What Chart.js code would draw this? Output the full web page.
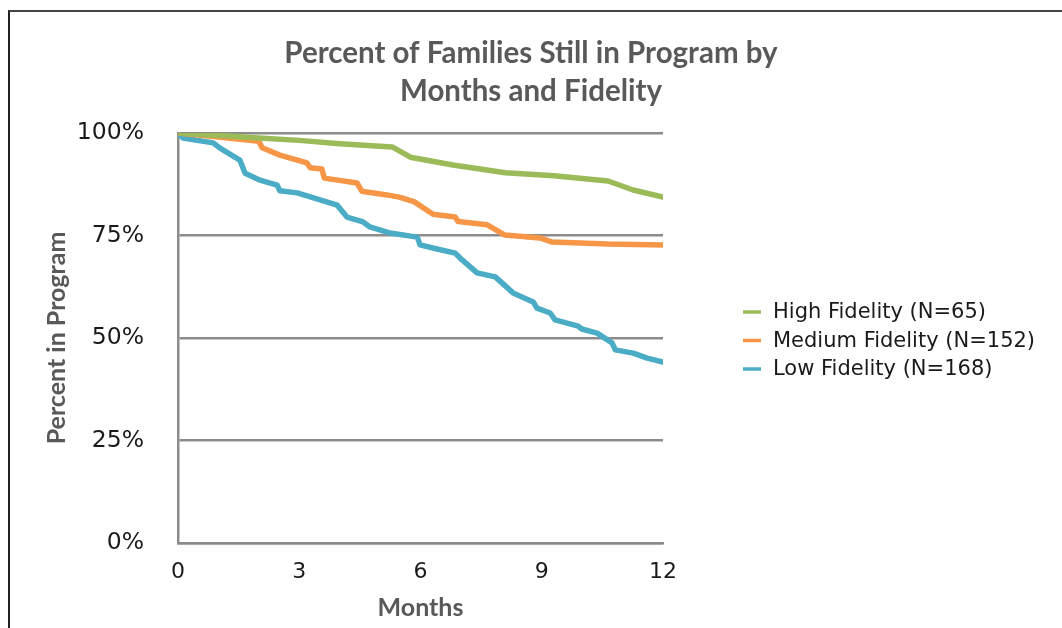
<!DOCTYPE html>
<html>
<head>
<meta charset="utf-8">
<script src="https://cdn.jsdelivr.net/npm/chart.js@4.4.1/dist/chart.umd.min.js"></script>
<style>
  html, body { margin: 0; padding: 0; background: #ffffff; }
  #wrap { position: relative; width: 1062px; height: 628px; overflow: hidden; }
  #frame { position: absolute; left: 8px; top: 10px; width: 1100px; height: 700px; border-left: 2px solid #222; border-top: 2px solid #444; box-sizing: border-box; pointer-events: none; }
  canvas { position: absolute; left: 0; top: 0; }
</style>
</head>
<body>
<div id="wrap">
  <canvas id="c" width="1062" height="628"></canvas>
  <div id="frame"></div>
</div>
<script>
// ---- Data ----
const seriesLabels = ['High Fidelity (N=65)', 'Medium Fidelity (N=152)', 'Low Fidelity (N=168)'];
const seriesColors = ['#9BBB59', '#F79646', '#4BACC6'];

const highMonths = [0, 1, 2, 3, 4, 5.3, 5.75, 6.8, 8.1, 9.3, 10.64, 11.26, 12];
const highPct    = [100, 99.4, 98.8, 98.2, 97.4, 96.6, 94.1, 92.2, 90.3, 89.6, 88.3, 86.1, 84.4];

const medMonths = [0, 1, 2.0, 2.08, 2.52, 3.19, 3.27, 3.56, 3.62, 4.43, 4.55, 5.17, 5.5, 5.85, 6.31, 6.86, 6.93, 7.65, 8.09, 8.96, 9.26, 10.62, 12];
const medPct    = [100, 99.0, 98.0, 96.4, 94.6, 92.7, 91.5, 91.2, 89.0, 87.8, 85.8, 84.9, 84.3, 83.2, 80.2, 79.5, 78.4, 77.6, 75.1, 74.4, 73.4, 72.9, 72.7];

const lowMonths = [0, 0.12, 0.87, 1.04, 1.53, 1.66, 2.03, 2.45, 2.52, 2.95, 3.94, 4.18, 4.58, 4.75, 5.25, 5.92, 5.99, 6.41, 6.86, 6.98, 7.4, 7.85, 8.29, 8.79, 8.88, 9.21, 9.33, 9.9, 9.99, 10.37, 10.74, 10.82, 11.26, 11.61, 12];
const lowPct    = [100, 98.8, 97.6, 96.3, 93.4, 90.2, 88.5, 87.3, 85.9, 85.4, 82.4, 79.5, 78.3, 77.1, 75.6, 74.6, 72.7, 71.7, 70.7, 69.5, 65.9, 64.9, 61.0, 58.8, 57.3, 56.1, 54.4, 52.9, 52.2, 51.2, 48.8, 47.1, 46.3, 45.1, 44.1];

const xTicks = [0, 3, 6, 9, 12];
const yTicks = [0, 25, 50, 75, 100];

const titleLines = ['Percent of Families Still in Program by', 'Months and Fidelity'];
const xTitle = 'Months';
const yTitle = 'Percent in Program';

// ---- Build ----
function pts(xs, ys) { return xs.map((x, i) => ({ x: x, y: ys[i] })); }
const allSeries = [pts(highMonths, highPct), pts(medMonths, medPct), pts(lowMonths, lowPct)];

const labelFont = "'DejaVu Sans', 'Liberation Sans', sans-serif";
const boldFont = "Lato, 'Liberation Sans', sans-serif";

// Legend as a layout box on the right of the plot area (title stays full width)
const sideLegend = {
  id: 'sideLegend',
  beforeInit(chart) {
    const box = {
      position: 'right', weight: 100, fullSize: false,
      options: { stackWeight: 1 },
      left: 0, top: 0, right: 0, bottom: 0, width: 0, height: 0,
      isHorizontal() { return false; },
      getPadding() { return { top: 0, left: 0, right: 0, bottom: 0 }; },
      update(maxWidth, maxHeight) { this.width = 399; this.height = maxHeight; },
      draw() {
        const ctx = chart.ctx;
        const x0 = this.left + 80;
        const yc = 340.5;
        const gap = 28.5;
        ctx.save();
        chart.data.datasets.forEach((ds, i) => {
          const y = yc + (i - 1) * gap;
          ctx.strokeStyle = ds.borderColor;
          ctx.lineWidth = 3.5;
          ctx.beginPath();
          ctx.moveTo(x0, y);
          ctx.lineTo(x0 + 18, y);
          ctx.stroke();
          ctx.fillStyle = '#1a1a1a';
          ctx.font = '21px ' + labelFont;
          ctx.textBaseline = 'middle';
          ctx.textAlign = 'left';
          ctx.fillText(ds.label, x0 + 30, y + 1);
        });
        ctx.restore();
      }
    };
    Chart.layouts.addBox(chart, box);
  }
};

new Chart(document.getElementById('c'), {
  type: 'line',
  data: {
    datasets: allSeries.map((d, i) => ({
      label: seriesLabels[i],
      data: d,
      borderColor: seriesColors[i],
      backgroundColor: seriesColors[i],
      borderWidth: 5.5,
      pointRadius: 0,
      tension: 0,
      borderJoinStyle: 'round',
      borderCapStyle: 'round',
      fill: false
    }))
  },
  plugins: [sideLegend],
  options: {
    responsive: false,
    animation: false,
    events: [],
    layout: { padding: 0 },
    plugins: {
      legend: { display: false },
      tooltip: { enabled: false },
      title: {
        display: true,
        text: titleLines,
        color: '#595959',
        font: { family: boldFont, size: 29.5, weight: 'bold', lineHeight: '38px' },
        padding: { top: 34, bottom: 23 }
      }
    },
    scales: {
      x: {
        type: 'linear',
        min: 0, max: 12,
        afterBuildTicks(scale) { scale.ticks = xTicks.map(v => ({ value: v })); },
        afterFit(scale) { scale.height = 85; },
        grid: { display: false, drawTicks: false },
        border: { display: true, color: '#8c8c8c', width: 2.5 },
        ticks: { padding: 16, color: '#1a1a1a', font: { family: labelFont, size: 22 }, maxRotation: 0 },
        title: { display: true, text: xTitle, color: '#595959', font: { family: boldFont, size: 25, weight: 'bold' }, padding: { top: 0, bottom: 5 } }
      },
      y: {
        min: 0, max: 100,
        afterBuildTicks(scale) { scale.ticks = yTicks.map(v => ({ value: v })); },
        afterFit(scale) { scale.width = 178; },
        grid: { color: '#8c8c8c', lineWidth: 2.5, drawTicks: false },
        border: { display: true, color: '#8c8c8c', width: 2.5 },
        ticks: { padding: 34, color: '#1a1a1a', font: { family: labelFont, size: 23.5 }, callback: v => v + '%' },
        title: { display: true, text: yTitle, color: '#595959', font: { family: boldFont, size: 25, weight: 'bold' }, padding: { top: 42, bottom: 0 } }
      }
    }
  }
});
</script>
</body>
</html>
